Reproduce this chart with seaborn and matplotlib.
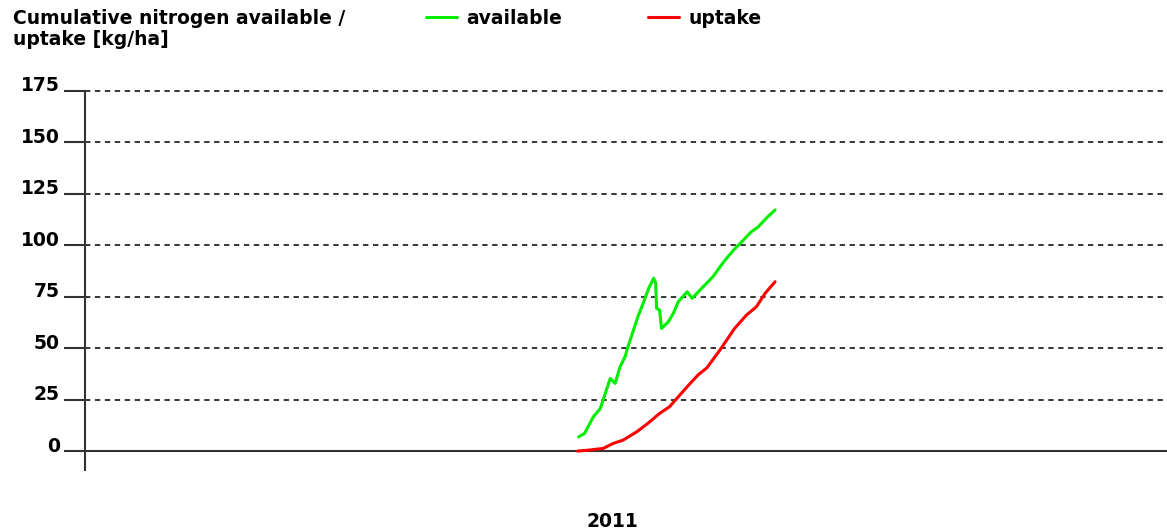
import matplotlib
matplotlib.use('Agg')
import matplotlib.pyplot as plt
import matplotlib.transforms as mtransforms
import seaborn as sns
import pandas as pd

# days counted from 1 Jan 2010, x axis spans 2010-2012
avail_day = [500, 506, 515, 522, 527, 532, 537, 542, 547, 550, 555, 560, 566, 571, 576,
             578, 579, 582, 584, 591, 596, 601, 610, 615, 623, 636, 647, 657, 667,
             675, 682, 690, 699]
avail_val = [6.9, 8.6, 16.7, 20.7, 28, 35.3, 32.9, 41, 45.8, 50.7, 58, 65.3, 72.6, 79.1,
             84, 81.7, 69.4, 68.5, 59.6, 62.9, 67, 72.6, 77.4, 74.2, 78.3, 84.7, 92,
             97.7, 102.6, 106.6, 109, 113.1, 117.2]

uptake_day = [499, 511, 525, 535, 545, 559, 570, 582, 592, 610, 621, 630, 643, 658,
              670, 680, 689, 699]
uptake_val = [0, 0.5, 1.3, 3.7, 5.3, 9.4, 13.4, 18.3, 21.5, 31.3, 37, 40.5, 49, 59.6,
              66.1, 70.1, 76.7, 82.3]

y_ticks = [0, 25, 50, 75, 100, 125, 150, 175]
x_tick_day = [534]
x_tick_labels = ['2011']

avail = pd.DataFrame({'day': avail_day, 'N': avail_val, 'series': 'available'})
uptake = pd.DataFrame({'day': uptake_day, 'N': uptake_val, 'series': 'uptake'})
df = pd.concat([avail, uptake], ignore_index=True)

sns.set_style('white')
plt.rcParams['font.family'] = ['DejaVu Sans']
plt.rcParams['font.weight'] = 'bold'
plt.rcParams['text.color'] = 'black'

fs = 13.5
fig = plt.figure(figsize=(11.67, 5.31), dpi=100)
ax = fig.add_axes([85 / 1167, 61 / 531, 1082 / 1167, 379 / 531])

for y in y_ticks[1:]:
    ax.axhline(y, color='black', lw=1.1, ls=(0, (3.5, 3)), zorder=1, clip_on=False)
ax.axhline(0, color='#333333', lw=1.5, zorder=1)

sns.lineplot(data=df, x='day', y='N', hue='series',
             palette={'available': '#00ee00', 'uptake': '#ff0000'},
             lw=2.2, ax=ax, legend=False, zorder=3, estimator=None, sort=False)

ax.set_xlim(0, 1096)
ax.set_ylim(-9.2, 175)
ax.set_yticks(y_ticks)
ax.set_yticklabels([str(v) for v in y_ticks], fontsize=fs, fontweight='bold', color='black')
ax.set_xticks(x_tick_day)
ax.set_xticklabels(x_tick_labels, fontsize=fs, fontweight='bold', color='black')
ax.tick_params(axis='y', length=15, width=1.5, color='#333333', pad=3, left=True)
ax.tick_params(axis='x', length=0, pad=30)
ax.set_xlabel('')
ax.set_ylabel('')
for s in ['top', 'right', 'bottom']:
    ax.spines[s].set_visible(False)
ax.spines['left'].set_color('#333333')
ax.spines['left'].set_linewidth(1.5)

# labels sit slightly above their tick line
shift = mtransforms.ScaledTranslation(0, 7 / 100, fig.dpi_scale_trans)
for lab in ax.get_yticklabels():
    lab.set_transform(lab.get_transform() + shift)

fig.text(13 / 1167, 1 - 9 / 531, 'Cumulative nitrogen available /\nuptake [kg/ha]',
         ha='left', va='top', fontsize=fs, fontweight='bold', linespacing=1.15,
         color='black')

handles = [plt.Line2D([], [], color='#00ee00', lw=2.2),
           plt.Line2D([], [], color='#ff0000', lw=2.2)]
fig.legend(handles, ['available', 'uptake'], ncol=2, frameon=False,
           loc='upper left', bbox_to_anchor=(426 / 1167, 1 - 9 / 531),
           borderpad=0, borderaxespad=0, handlelength=1.65, handletextpad=0.5,
           columnspacing=4.6, prop={'size': fs, 'weight': 'bold'})

fig.savefig('out.png', dpi=100)
